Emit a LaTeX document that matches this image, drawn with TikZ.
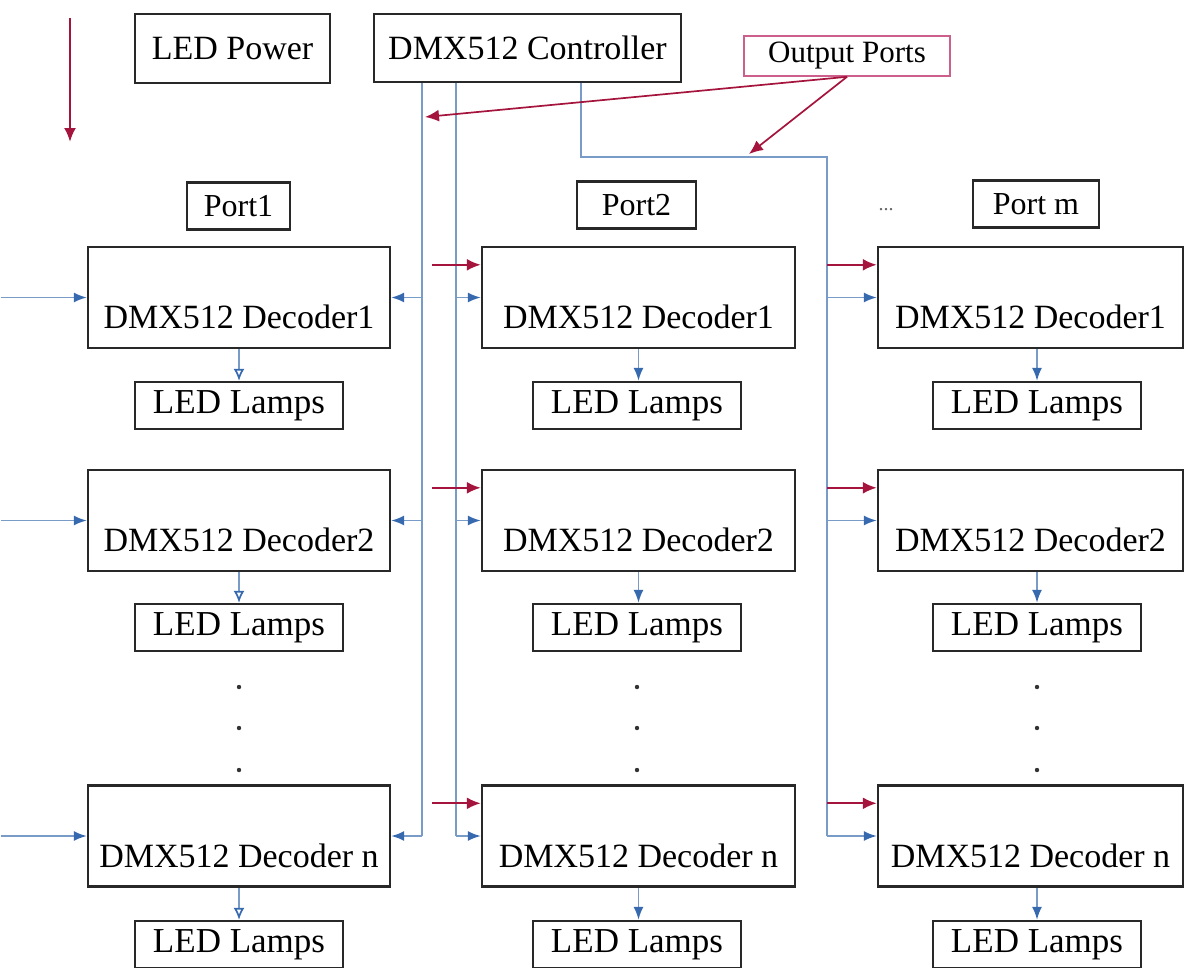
\documentclass[tikz,border=0pt]{standalone}
\usepackage{fontspec}
\setmainfont{Liberation Serif}
\usetikzlibrary{arrows.meta,calc}
\newcommand\setfs[1]{\fontsize{#1}{#1}\selectfont}
\definecolor{boxc}{RGB}{40,40,40}
\definecolor{busc}{RGB}{120,155,200}
\definecolor{bluea}{RGB}{55,105,175}
\definecolor{redc}{RGB}{165,20,60}
\definecolor{pinkc}{RGB}{205,95,140}
\begin{document}
\begin{tikzpicture}[x=1pt,y=-1pt,
  box/.style={draw=boxc, line width=2.4pt, inner sep=0pt, font=\setfs{34}, text=black},
  dec/.style={box, minimum height=101pt},
  dectext/.style={font=\setfs{34}, inner sep=0pt},
  lamp/.style={box, minimum width=208pt, minimum height=47pt, font=\setfs{35}},
  portbox/.style={box, minimum height=47pt, font=\setfs{32}},
  opbox/.style={draw=pinkc, line width=1.6pt, inner sep=0pt, font=\setfs{31}},
  bus/.style={draw=busc, line width=1.8pt},
  barrow/.style={draw=busc, line width=1.7pt, -{Latex[length=13pt,width=10pt,color=bluea]}},
  oarrow/.style={draw=busc, line width=1.7pt, -{Latex[open,length=12pt,width=11pt,color=bluea]}},
  rarrow/.style={draw=redc, line width=2.2pt, -{Latex[length=14pt,width=12pt,color=redc]}}
]
\useasboundingbox (0,0) rectangle (1186,967);
\clip (0,0) rectangle (1186,967);

% top row
\node[box, minimum width=195pt, minimum height=69pt] (pow) at (232.5,48.5) {LED Power};
\node[box, minimum width=307pt, minimum height=68pt] (ctrl) at (527.5,48) {DMX512 Controller};
\node[opbox, minimum width=206pt, minimum height=40pt] (op) at (847,56) {Output Ports};

% legend arrow
\coordinate (lgA) at (70,18);
\coordinate (lgB) at (70,142);
\draw[rarrow, line width=2.4pt] (lgA) -- (lgB);

% port labels
\node[portbox, minimum width=103pt] (p1) at (238.5,206) {Port1};
\node[portbox, minimum width=119pt] (p2) at (636.5,205) {Port2};
\node[portbox, minimum width=126pt] (pm) at (1036,204) {Port m};
\node[font=\setfs{20}, text=black!60, inner sep=0pt] (pdots) at (886,210) {...};

% decoders and lamps
\foreach \c/\cx/\w/\lx in {1/239/302/239, 2/638.5/313/637, 3/1030.5/305/1037} {
  \foreach \r/\ry/\ly/\t in {1/297.5/405.5/1, 2/520.5/627.5/2, n/836/944.5/\ n} {
    \node[dec, minimum width=\w pt] (d\c\r) at (\cx,\ry) {};
    \node[dectext, anchor=base] (t\c\r) at (\cx,\ry+31) {DMX512 Decoder\t};
    \node[lamp] (l\c\r) at (\lx,\ly) {LED Lamps};
  }
  \foreach \yy in {687,728,770} {
    \fill[black!80] (\lx,\yy) circle (2.2pt);
  }
}

% decoder -> lamps
\foreach \r in {1,2,n} {
  \draw[oarrow] (d1\r.south) -- (l1\r.north);
  \draw[barrow] (d2\r.south) -- (d2\r.south |- l2\r.north);
  \draw[barrow] (d3\r.south -| l3\r.north) -- (l3\r.north);
}

% left inputs
\foreach \r in {1,2,n} {
  \coordinate (in\r) at ($(d1\r.west)+(-86,0)$);
  \draw[barrow] (in\r) -- (d1\r.west);
}

% bus lines
\coordinate (x1) at (422,0);
\coordinate (x2) at (456,0);
\coordinate (x3) at (581,0);
\coordinate (x4) at (827,0);
\coordinate (turn) at (581,157);
\draw[bus] (ctrl.south -| x1) -- (d1n.east -| x1);
\draw[bus] (ctrl.south -| x2) -- (d2n.west -| x2);
\draw[bus] (ctrl.south -| x3) -- (turn) -| (d3n.west -| x4);

\foreach \r in {1,2,n} {
  \draw[barrow] (d1\r.east -| x1) -- (d1\r.east);
  \draw[barrow] (d2\r.west -| x2) -- (d2\r.west);
  \draw[barrow] (d3\r.west -| x4) -- (d3\r.west);
  \coordinate (r2\r) at ($(d2\r.north west)+(0,19)$);
  \coordinate (rs2\r) at ($(d2\r.north west)+(-49,19)$);
  \draw[rarrow] (rs2\r) -- (r2\r);
  \coordinate (r3\r) at ($(d3\r.north west)+(0,19)$);
  \draw[rarrow] (r3\r -| x4) -- (r3\r);
}

% output ports pointers
\coordinate (ra1) at (425,117);
\coordinate (ra2) at (749,154);
\draw[rarrow, line width=1.7pt] (op.south) -- (ra1);
\draw[rarrow, line width=1.7pt] (op.south) -- (ra2);
\end{tikzpicture}
\end{document}
